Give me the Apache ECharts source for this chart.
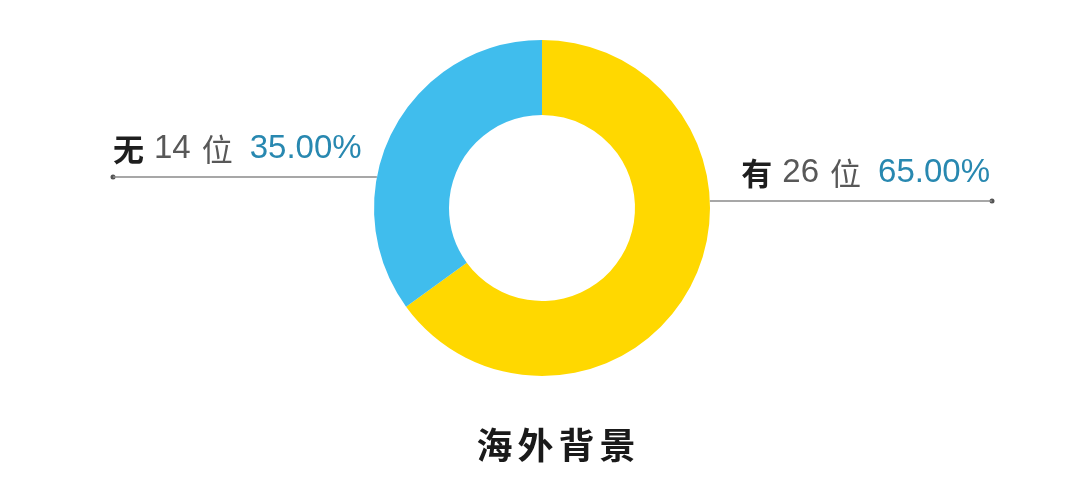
<!DOCTYPE html>
<html>
<head>
<meta charset="utf-8">
<script src="https://cdn.jsdelivr.net/npm/echarts@6/dist/echarts.min.js"></script>
<style>
    html, body { margin: 0; padding: 0; background: #fff; }
    #chart { width: 1080px; height: 495px; }
</style>
</head>
<body>
<div id="chart"></div>
<script>
// 数据
const names = ['有', '无']
const counts = [26, 14]
const colors = ['#FFD800', '#40BDED']
const title = '海外背景'

// 布局
const CENTER = [542, 208]
const RADIUS = [93, 168]
const lineY = [201, 177]      // 引导线的高度
const lineEnd = [992, 113]    // 引导线外端

const myChart = echarts.init(document.getElementById('chart'))

function edgePoint(i) {
    const dy = lineY[i] - CENTER[1]
    const dx = Math.sqrt(RADIUS[1] * RADIUS[1] - dy * dy)
    return [i === 0 ? CENTER[0] + dx : CENTER[0] - dx, lineY[i]]
}

const options = {
    backgroundColor: '#fff',
    title: {
        // 每个字单独排，拉开字距
        text: title.split('').map(c => `{c|${c}}`).join(''),
        left: 551,
        top: 422,
        textAlign: 'center',
        textStyle: {
            rich: {
                c: {
                    fontFamily: 'Noto Sans CJK SC',
                    fontSize: 36,
                    fontWeight: 'bold',
                    color: '#1a1a1a',
                    padding: [0, 2.5, 0, 2.5]
                }
            }
        }
    },
    graphic: lineEnd.map((x, i) => ({
        type: 'circle',
        shape: { cx: x, cy: lineY[i], r: 2.5 },
        style: { fill: '#555' }
    })),
    series: [
        {
            type: 'pie',
            center: CENTER,
            radius: RADIUS,
            startAngle: 90,
            clockwise: true,
            silent: true,
            data: names.map((n, i) => ({
                name: n,
                value: counts[i],
                itemStyle: { color: colors[i] }
            })),
            label: {
                show: true,
                formatter: p => `{n|${p.name}}{v|${p.value}}{u|位}{p|${p.percent.toFixed(2)}%}`,
                rich: {
                    n: { fontFamily: 'Noto Sans CJK SC', fontSize: 31, fontWeight: 'bold', color: '#1e1e1e', lineHeight: 40 },
                    v: { fontFamily: 'Liberation Sans', fontSize: 33, color: '#585858', padding: [0, 0, 0, 10], lineHeight: 40 },
                    u: { fontFamily: 'Noto Sans CJK SC', fontSize: 31, color: '#585858', padding: [0, 0, 0, 11], lineHeight: 40 },
                    p: { fontFamily: 'Liberation Sans', fontSize: 33, color: '#2888b0', padding: [0, 0, 0, 17], lineHeight: 40 }
                }
            },
            labelLine: {
                show: true,
                lineStyle: { color: '#8a8a8a', width: 1.5 }
            },
            labelLayout: params => {
                const i = params.dataIndex
                return {
                    x: i === 0 ? lineEnd[i] - 2 : lineEnd[i],
                    y: lineY[i] - 8,
                    align: i === 0 ? 'right' : 'left',
                    verticalAlign: 'bottom',
                    labelLinePoints: [edgePoint(i), [lineEnd[i], lineY[i]]]
                }
            }
        }
    ]
}
myChart.setOption(options)
</script>
</body>
</html>
